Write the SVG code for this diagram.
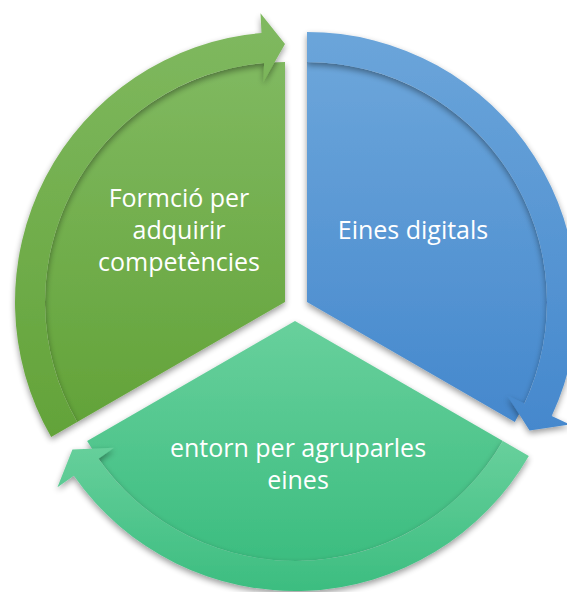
<svg xmlns="http://www.w3.org/2000/svg" width="567" height="592" viewBox="0 0 567 592">
  <defs>
    <linearGradient id="gGreen" x1="0" y1="0" x2="0" y2="1">
      <stop offset="0" stop-color="#80b960"/>
      <stop offset="1" stop-color="#63a339"/>
    </linearGradient>
    <linearGradient id="gBlue" x1="0" y1="0" x2="0" y2="1">
      <stop offset="0" stop-color="#6ba5da"/>
      <stop offset="1" stop-color="#4588cd"/>
    </linearGradient>
    <linearGradient id="gTeal" x1="0" y1="0" x2="0" y2="1">
      <stop offset="0" stop-color="#68d09c"/>
      <stop offset="1" stop-color="#3cbd80"/>
    </linearGradient>
    <filter id="shadow" x="-20%" y="-20%" width="140%" height="140%">
      <feGaussianBlur in="SourceAlpha" stdDeviation="3"/>
      <feOffset dx="0" dy="2.5" result="b"/>
      <feComponentTransfer><feFuncA type="linear" slope="0.4"/></feComponentTransfer>
      <feMerge><feMergeNode/><feMergeNode in="SourceGraphic"/></feMerge>
    </filter>
  </defs>
  <style>
    .lbl { font-family: "Open Sans", "Noto Sans", "Liberation Sans", sans-serif; font-size: 25px; fill: #ffffff; text-anchor: middle; }
    .seg { filter: url(#shadow); }
  </style>

  <g id="node-formacio">
    <path class="seg" fill="url(#gGreen)" d="M285,302 L77.15,422 A240,240 0 0 1 285,62 Z"/>
    <text class="lbl" x="179" y="207">Formció per</text>
    <text class="lbl" x="179" y="239">adquirir</text>
    <text class="lbl" x="179" y="271">competències</text>
  </g>

  <g id="node-eines">
    <path class="seg" fill="url(#gBlue)" d="M307,302 L307,62 A240,240 0 0 1 514.85,422 Z"/>
    <text class="lbl" x="413" y="239">Eines digitals</text>
  </g>

  <g id="node-entorn">
    <path class="seg" fill="url(#gTeal)" d="M295,321 L502.85,441 A240,240 0 0 1 87.15,441 Z"/>
    <text class="lbl" x="298" y="457">entorn per agruparles</text>
    <text class="lbl" x="298" y="489">eines</text>
  </g>

  <g id="connectors">
    <path class="seg" fill="url(#gGreen)" d="M51.17,437 A270,270 0 0 1 261.47,33.03 L260.5,13.3 L285,44 L263.5,81.8 L264.08,62.91 A240,240 0 0 0 77.15,422 Z"/>
    <path class="seg" fill="url(#gBlue)" d="M307,32 A270,270 0 0 1 551.70,416.11 L569.83,424.56 L529.57,430.5 L507.29,395.40 L524.51,403.43 A240,240 0 0 0 307,62 Z"/>
    <path class="seg" fill="url(#gTeal)" d="M528.83,456 A270,270 0 0 1 73.83,475.87 L57.45,487.34 L72.43,449.5 L113.97,447.76 L98.40,458.66 A240,240 0 0 0 502.85,441 Z"/>
  </g>
</svg>
